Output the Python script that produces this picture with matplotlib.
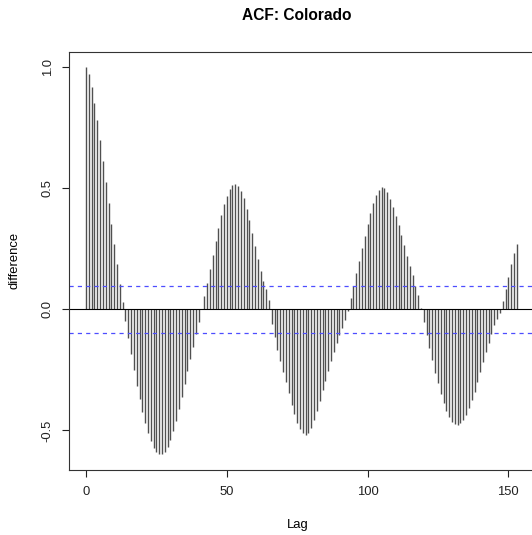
import matplotlib
matplotlib.use("Agg")
import matplotlib.pyplot as plt
import numpy as np

# ---- data ----
lags = list(range(0, 154))
acf_values = [
    1.000, 0.970, 0.919, 0.853, 0.780, 0.697, 0.612, 0.525, 0.438, 0.353,
    0.270, 0.187, 0.105, 0.030, -0.050, -0.118, -0.185, -0.252, -0.315, -0.372,
    -0.425, -0.470, -0.510, -0.545, -0.572, -0.588, -0.597, -0.598, -0.588, -0.568,
    -0.540, -0.503, -0.460, -0.412, -0.360, -0.307, -0.255, -0.205, -0.155, -0.102,
    -0.051, 0.002, 0.053, 0.110, 0.166, 0.225, 0.283, 0.337, 0.388, 0.433,
    0.469, 0.495, 0.511, 0.518, 0.510, 0.488, 0.458, 0.415, 0.367, 0.314,
    0.260, 0.207, 0.157, 0.115, 0.082, 0.040, -0.060, -0.114, -0.166, -0.213,
    -0.258, -0.300, -0.347, -0.393, -0.432, -0.468, -0.493, -0.510, -0.518, -0.512,
    -0.490, -0.458, -0.420, -0.378, -0.335, -0.295, -0.255, -0.215, -0.177, -0.140,
    -0.108, -0.076, -0.046, -0.008, 0.046, 0.098, 0.148, 0.201, 0.253, 0.304,
    0.353, 0.398, 0.437, 0.471, 0.494, 0.504, 0.501, 0.483, 0.455, 0.421,
    0.385, 0.348, 0.308, 0.266, 0.222, 0.178, 0.140, 0.098, 0.057, 0.004,
    -0.051, -0.106, -0.161, -0.210, -0.262, -0.306, -0.350, -0.388, -0.419, -0.446,
    -0.464, -0.474, -0.477, -0.469, -0.455, -0.436, -0.409, -0.376, -0.340, -0.300,
    -0.259, -0.218, -0.177, -0.137, -0.100, -0.066, -0.038, -0.015, 0.034, 0.083,
    0.135, 0.186, 0.231, 0.270,
]
ci_bound = 0.097
x_ticks = [0, 50, 100, 150]
y_ticks = [-0.5, 0.0, 0.5, 1.0]
y_tick_labels = ["-0.5", "0.0", "0.5", "1.0"]
title = "ACF: Colorado"
x_label = "Lag"
y_label = "difference"

# ---- figure ----
plt.rcParams['font.family'] = ['Liberation Sans', 'DejaVu Sans']
plt.rcParams['lines.scale_dashes'] = False

W, H = 532, 535
fig = plt.figure(figsize=(W / 100, H / 100), dpi=100)

# axes placement in pixels (R-style plot region, right edge beyond the image)
left_px, right_px, top_px, bottom_px = 68.8, 534.0, 51.5, 469.7
ax = fig.add_axes([left_px / W, 1 - bottom_px / H,
                   (right_px - left_px) / W, (bottom_px - top_px) / H])

xr = (max(lags) - min(lags)) * 0.04
ymin, ymax = min(acf_values), max(acf_values)
yr = (ymax - ymin) * 0.04
ax.set_xlim(min(lags) - xr, max(lags) + xr)
ax.set_ylim(ymin - yr, ymax + yr)

ax.vlines(lags, 0, acf_values, colors='#505050', linewidth=1.0)
ax.axhline(0, color='black', linewidth=0.8)
for b in (ci_bound, -ci_bound):
    ax.axhline(b, color='#4d4dff', linewidth=0.9, linestyle=(0, (3, 3)))

for s in ax.spines.values():
    s.set_color('#333333')
    s.set_linewidth(0.8)

ax.set_xticks(x_ticks)
ax.set_xticklabels([str(t) for t in x_ticks])
ax.set_yticks(y_ticks)
ax.set_yticklabels(y_tick_labels, rotation=90, va='center')
ax.tick_params(axis='both', direction='out', length=5, width=0.8,
               labelsize=9.4, colors='#222222')
ax.tick_params(axis='x', pad=6.5)
ax.tick_params(axis='y', pad=5.8)

fig.text(296.7 / W, 1 - 15.5 / H, title, ha='center', va='center',
         fontsize=11.2, fontweight='bold')
fig.text(297.7 / W, 1 - 525 / H, x_label, ha='center', va='center', fontsize=9.4)
fig.text(14.7 / W, 1 - ((top_px + bottom_px) / 2) / H, y_label, ha='center',
         va='center', rotation=90, fontsize=9.4)

fig.savefig('out.png', dpi=100)
